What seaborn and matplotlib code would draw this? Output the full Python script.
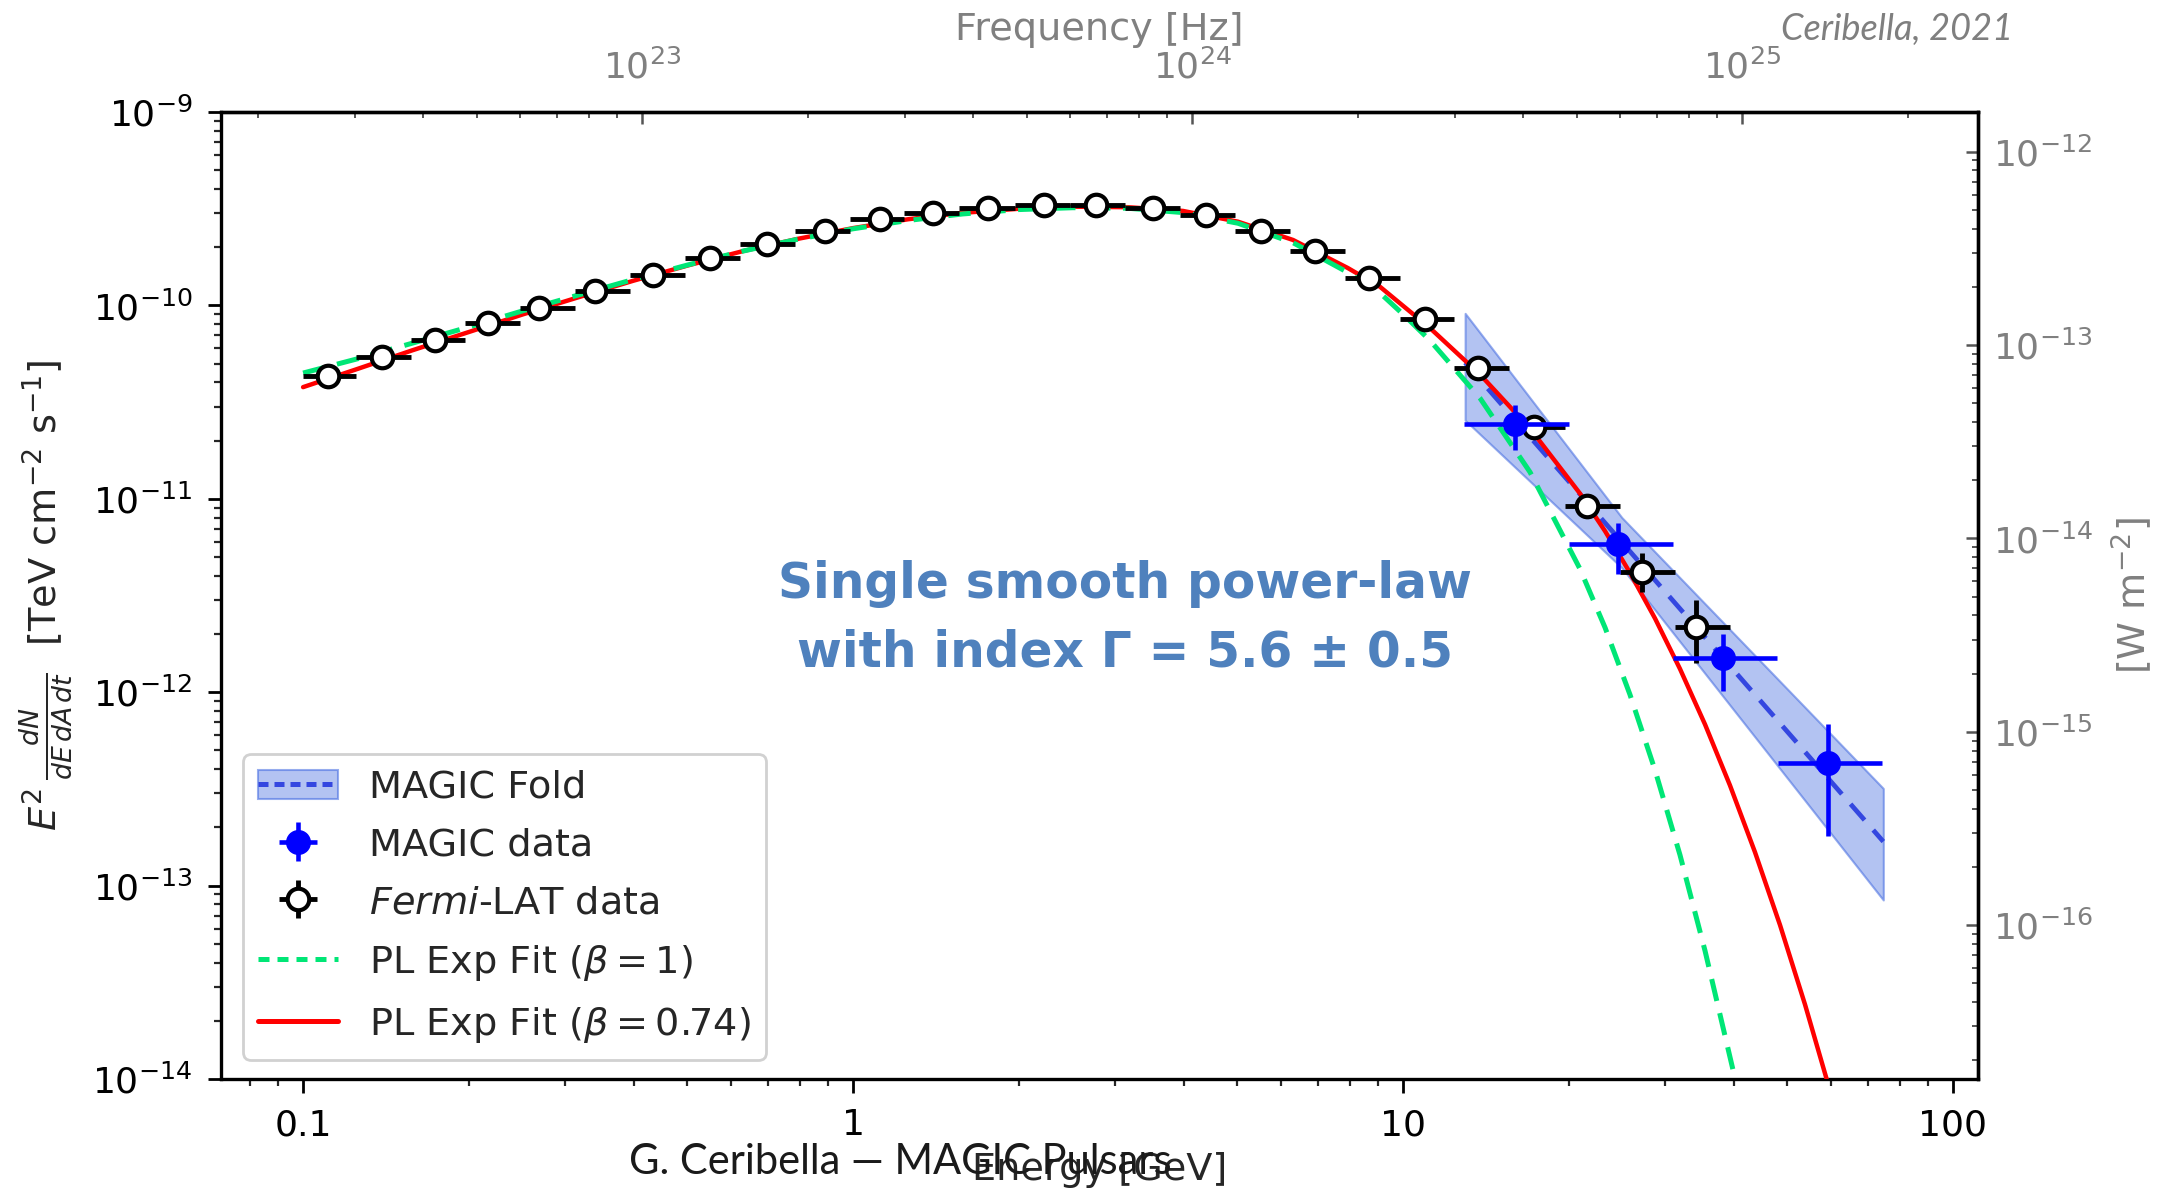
import numpy as np
import pandas as pd
import matplotlib
matplotlib.use("Agg")
import matplotlib.pyplot as plt
import seaborn as sns
from matplotlib.patches import Patch
from matplotlib.lines import Line2D

# ---------------- data ----------------
# Fermi-LAT spectral points [GeV] / [TeV cm^-2 s^-1]
fermi_E = [0.111, 0.139, 0.174, 0.217, 0.269, 0.340, 0.432, 0.550, 0.698, 0.888,
           1.12, 1.40, 1.76, 2.22, 2.77, 3.51, 4.39, 5.51, 6.92, 8.69,
           10.96, 13.7, 17.3, 21.6, 27.2, 34.1]
fermi_E_lo = [0.100, 0.125, 0.157, 0.197, 0.248, 0.312, 0.393, 0.495, 0.623, 0.785,
              0.988, 1.24, 1.56, 1.97, 2.48, 3.12, 3.93, 4.95, 6.23, 7.85,
              9.88, 12.4, 15.6, 19.7, 24.8, 31.2]
fermi_E_hi = [0.125, 0.157, 0.197, 0.248, 0.312, 0.393, 0.495, 0.623, 0.785, 0.988,
              1.24, 1.56, 1.97, 2.48, 3.12, 3.93, 4.95, 6.23, 7.85, 9.88,
              12.4, 15.6, 19.7, 24.8, 31.2, 39.3]
fermi_F = [4.30e-11, 5.40e-11, 6.63e-11, 8.10e-11, 9.66e-11, 1.19e-10, 1.44e-10, 1.75e-10,
           2.07e-10, 2.43e-10, 2.80e-10, 3.00e-10, 3.18e-10, 3.31e-10, 3.31e-10, 3.18e-10,
           2.93e-10, 2.42e-10, 1.92e-10, 1.38e-10, 8.50e-11, 4.73e-11, 2.36e-11, 9.20e-12,
           4.20e-12, 2.17e-12]
fermi_F_err_dn = [1.2e-12, 1.4e-12, 1.6e-12, 1.9e-12, 2.2e-12, 2.6e-12, 3.0e-12, 3.5e-12,
                  4.0e-12, 4.5e-12, 5.0e-12, 5.4e-12, 5.8e-12, 6.2e-12, 6.5e-12, 6.6e-12,
                  6.6e-12, 6.0e-12, 5.3e-12, 4.3e-12, 3.2e-12, 2.2e-12, 1.3e-12, 8.0e-13,
                  8.9e-13, 7.5e-13]
fermi_F_err_up = [1.2e-12, 1.4e-12, 1.6e-12, 1.9e-12, 2.2e-12, 2.6e-12, 3.0e-12, 3.5e-12,
                  4.0e-12, 4.5e-12, 5.0e-12, 5.4e-12, 5.8e-12, 6.2e-12, 6.5e-12, 6.6e-12,
                  6.6e-12, 6.0e-12, 5.3e-12, 4.3e-12, 3.2e-12, 2.2e-12, 1.3e-12, 8.0e-13,
                  1.04e-12, 8.3e-13]

# MAGIC spectral points
magic_E = [15.98, 24.6, 38.2, 59.2]
magic_E_lo = [12.9, 20.0, 31.0, 48.0]
magic_E_hi = [20.0, 31.0, 47.9, 74.4]
magic_F = [2.44e-11, 5.82e-12, 1.51e-12, 4.32e-13]
magic_F_lo = [1.79e-11, 4.08e-12, 1.01e-12, 1.81e-13]
magic_F_hi = [3.05e-11, 7.50e-12, 2.00e-12, 6.82e-13]

# MAGIC fold (power-law butterfly)
fold_E = [12.97, 25.0, 74.7]
fold_F_hi = [9.1e-11, 8.0e-12, 3.18e-13]
fold_F_lo = [2.55e-11, 4.4e-12, 8.43e-14]
fold_line_E = [12.97, 74.7]
fold_line_F = [5.06e-11, 1.69e-13]

# PL exp cutoff fit, beta = 0.74 (red)
red_E = [0.100, 0.126, 0.158, 0.200, 0.251, 0.316, 0.398, 0.501, 0.631, 0.794,
         1.00, 1.26, 1.58, 2.00, 2.51, 3.16, 3.98, 5.01, 6.31, 7.94,
         9.08, 11.20, 13.80, 17.02, 20.98, 23.30, 25.86, 28.72, 31.89, 35.41,
         39.31, 43.65, 48.48, 53.82, 58.95]
red_F = [3.78e-11, 4.71e-11, 5.86e-11, 7.28e-11, 8.99e-11, 1.10e-10, 1.34e-10, 1.61e-10,
         1.91e-10, 2.21e-10, 2.51e-10, 2.79e-10, 3.01e-10, 3.16e-10, 3.24e-10, 3.22e-10,
         3.08e-10, 2.71e-10, 2.18e-10, 1.56e-10,
         1.249e-10, 7.63e-11, 4.40e-11, 2.31e-11, 1.065e-11, 6.81e-12, 4.15e-12, 2.41e-12,
         1.32e-12, 6.82e-13, 3.30e-13, 1.49e-13, 6.25e-14, 2.43e-14, 9.95e-15]

# PL exp cutoff fit, beta = 1 (green)
green_E = [0.100, 0.126, 0.158, 0.200, 0.251, 0.316, 0.398, 0.501, 0.631, 0.794,
           1.00, 1.26, 1.58, 2.00, 2.51, 3.16, 3.98, 5.01, 6.31, 7.94,
           9.08, 10.08, 11.20, 13.80, 17.02, 20.98, 23.30, 25.86, 28.72, 31.89, 35.41, 40.2]
green_F = [4.47e-11, 5.31e-11, 6.38e-11, 7.73e-11, 9.38e-11, 1.13e-10, 1.36e-10, 1.62e-10,
           1.91e-10, 2.20e-10, 2.49e-10, 2.75e-10, 2.97e-10, 3.13e-10, 3.20e-10, 3.18e-10,
           3.02e-10, 2.66e-10, 2.11e-10, 1.48e-10,
           1.16e-10, 8.82e-11, 6.58e-11, 3.32e-11, 1.374e-11, 4.34e-12, 2.16e-12, 9.73e-13,
           3.96e-13, 1.44e-13, 4.61e-14, 9.92e-15]

# unit conversions for the secondary axes
GEV_TO_HZ = 2.418e23
TEV_CM2_S_TO_W_M2 = 1.602e-3

x_ticks = [0.1, 1, 10, 100]
x_tick_labels = ["0.1", "1", "10", "100"]

# ---------------- style ----------------
sns.set_theme(style="ticks")
plt.rcParams["font.family"] = ["DejaVu Sans"]
plt.rcParams["mathtext.fontset"] = "dejavusans"
plt.rcParams["axes.linewidth"] = 2.4
plt.rcParams["axes.edgecolor"] = "black"

GRAY = "#808080"
TICK_FS = 26
LABEL_FS = 27.5
BAND_FACE = (0.255, 0.41, 0.88, 0.40)
BAND_EDGE = (0.255, 0.41, 0.88, 0.55)
FOLD_LINE = "#3447e0"
GREEN = "#00e676"

fig = plt.figure(figsize=(21.64, 11.98), dpi=100)
ax = fig.add_axes([0.1021, 0.0993, 0.8119, 0.8072])
ax.set_xscale("log")
ax.set_yscale("log")
ax.set_xlim(0.0709, 111)
ax.set_ylim(1e-14, 1e-9)

# fold band + line
ax.fill_between(fold_E, fold_F_lo, fold_F_hi, facecolor=BAND_FACE,
                edgecolor=BAND_EDGE, lw=1.5, zorder=2)
sns.lineplot(x=fold_line_E, y=fold_line_F, ax=ax, color=FOLD_LINE, lw=3.4,
             linestyle=(0, (4.5, 2.8)), sort=False, estimator=None, zorder=3)

# fits
sns.lineplot(x=red_E, y=red_F, ax=ax, color="red", lw=3.2, sort=False,
             estimator=None, zorder=3.2)
sns.lineplot(x=green_E, y=green_F, ax=ax, color=GREEN, lw=3.6,
             linestyle=(0, (4.5, 2.5)), sort=False, estimator=None, zorder=3.4)

# Fermi points
fE = np.array(fermi_E)
fermi_cont = ax.errorbar(fermi_E, fermi_F,
                         xerr=[fE - np.array(fermi_E_lo), np.array(fermi_E_hi) - fE],
                         yerr=[fermi_F_err_dn, fermi_F_err_up],
                         fmt="o", ms=15.5, mfc="white", mec="black", mew=3,
                         ecolor="black", elinewidth=3.5, capsize=0, zorder=5)
# MAGIC points
mE = np.array(magic_E)
mF = np.array(magic_F)
magic_cont = ax.errorbar(magic_E, magic_F,
                         xerr=[mE - np.array(magic_E_lo), np.array(magic_E_hi) - mE],
                         yerr=[mF - np.array(magic_F_lo), np.array(magic_F_hi) - mF],
                         fmt="o", ms=17, color="blue", mec="blue",
                         ecolor="blue", elinewidth=3.3, capsize=0, zorder=6)

# ticks main axes
ax.set_xticks(x_ticks)
ax.set_xticklabels(x_tick_labels)
ax.tick_params(axis="both", which="major", direction="out", length=9.5, width=2,
               labelsize=TICK_FS, pad=11, colors="black")
ax.tick_params(axis="both", which="minor", direction="out", length=5, width=1.6)
ax.tick_params(axis="x", which="major", length=10)

ax.set_xlabel("Energy [GeV]", fontsize=LABEL_FS)
ax.xaxis.set_label_coords(0.5, -0.075)
ax.set_ylabel(r"$E^2\,\frac{dN}{dE\,dA\,dt}$  [TeV cm$^{-2}$ s$^{-1}$]", fontsize=LABEL_FS)
ax.yaxis.set_label_coords(-0.0837, 0.5)

# secondary axes
secx = ax.secondary_xaxis("top", functions=(lambda e: e * GEV_TO_HZ,
                                            lambda nu: nu / GEV_TO_HZ))
secx.tick_params(axis="x", which="major", direction="in", length=8.5, width=1.8,
                 labelsize=TICK_FS, pad=19, colors="#555555", labelcolor=GRAY)
secx.tick_params(axis="x", which="minor", direction="in", length=4, width=1.4,
                 colors="#555555")
secx.set_xlabel("Frequency [Hz]", fontsize=LABEL_FS, color=GRAY)
secx.xaxis.set_label_coords(0.5, 1.0745, transform=ax.transAxes)

secy = ax.secondary_yaxis("right", functions=(lambda f: f * TEV_CM2_S_TO_W_M2,
                                              lambda w: w / TEV_CM2_S_TO_W_M2))
secy.tick_params(axis="y", which="major", direction="in", length=8.5, width=1.8,
                 labelsize=TICK_FS, pad=11, colors="#555555", labelcolor=GRAY)
secy.tick_params(axis="y", which="minor", direction="in", length=4.5, width=1.4,
                 colors="#555555")
secy.set_ylabel(r"[W m$^{-2}$]", fontsize=LABEL_FS, color=GRAY)
secy.yaxis.set_label_coords(1.075, 0.5, transform=ax.transAxes)

# legend
fold_handle = (Patch(facecolor=BAND_FACE, edgecolor=BAND_EDGE, lw=1.5),
               Line2D([], [], color=FOLD_LINE, lw=3.6, linestyle=(0, (2.0, 1.2))))
green_handle = Line2D([], [], color=GREEN, lw=3.6, linestyle=(0, (2.2, 1.6)))
red_handle = Line2D([], [], color="red", lw=3.6)
leg = ax.legend([fold_handle, magic_cont, fermi_cont, green_handle, red_handle],
                ["MAGIC Fold", "MAGIC data", r"$\it{Fermi}$-LAT data",
                 r"PL Exp Fit ($\beta = 1$)", r"PL Exp Fit ($\beta = 0.74$)"],
                loc="lower left", bbox_to_anchor=(0.0125, 0.0196), borderaxespad=0,
                fontsize=LABEL_FS, handlelength=2.1, handletextpad=0.8,
                handleheight=0.8, labelspacing=0.57, borderpad=0.4, frameon=True,
                fancybox=True, framealpha=0.9, edgecolor="#cccccc")
leg.get_frame().set_linewidth(2.0)

# annotation
ax.text(0.5145, 0.4767, "Single smooth power-law\nwith index \u0393 = 5.6 \u00b1 0.5",
        transform=ax.transAxes, ha="center", va="center", fontsize=35,
        fontweight="bold", color="#4f81bd", linespacing=1.55, zorder=7)

# slide texts
fig.text(0.9302, 1 - 40 / 1198, "Ceribella, 2021", ha="right", va="baseline",
         family=["Lato", "DejaVu Sans"], style="italic", fontsize=26, color="#7f7f7f")
fig.text(900 / 2164, 1 - 1174 / 1198, "G. Ceribella \u2014 MAGIC Pulsars", ha="center",
         va="baseline", family=["Lato", "DejaVu Sans"], fontsize=30, color="#1a1a1a")

fig.savefig("out.png", dpi=100, facecolor="white")
